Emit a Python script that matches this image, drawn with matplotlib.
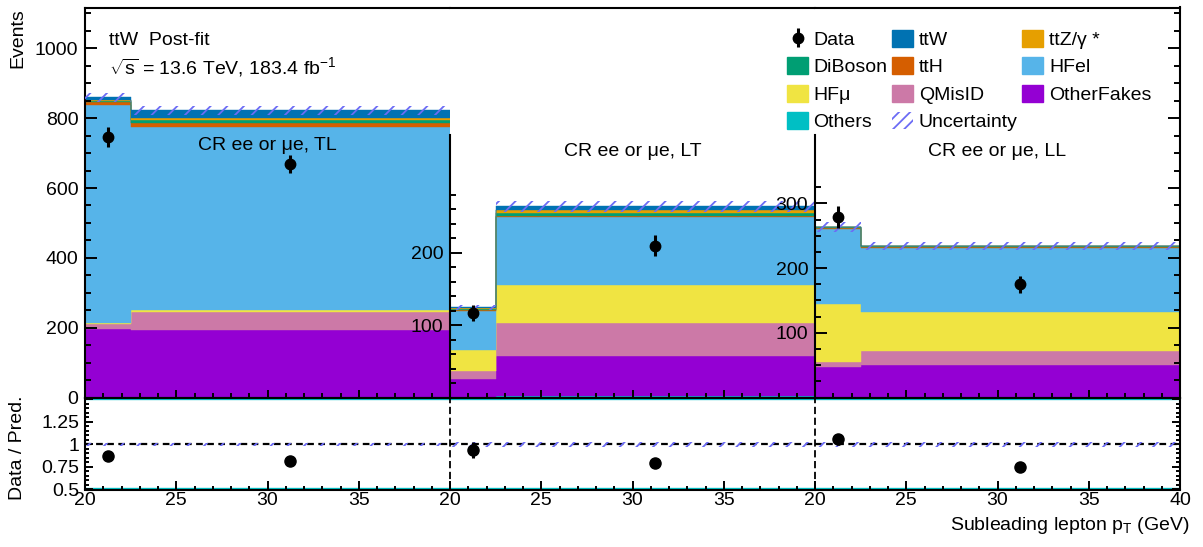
import numpy as np
import matplotlib
matplotlib.use("Agg")
import matplotlib.pyplot as plt
from matplotlib.ticker import MultipleLocator, FixedLocator, FuncFormatter, NullFormatter
from matplotlib.patches import Patch

plt.rcParams["font.family"] = ["Liberation Sans", "DejaVu Sans"]
plt.rcParams["mathtext.fontset"] = "custom"
plt.rcParams["mathtext.rm"] = "Liberation Sans"
plt.rcParams["mathtext.it"] = "Liberation Sans:italic"
plt.rcParams["mathtext.bf"] = "Liberation Sans:bold"
plt.rcParams["hatch.linewidth"] = 1.3

# ---------------------------------------------------------------- data
regions = ["TL", "LT", "LL"]
region_titles = ["CR ee or μe, TL", "CR ee or μe, LT", "CR ee or μe, LL"]
bin_edges = [20.0, 22.5, 40.0]

# two bins per region, regions ordered TL, LT, LL
data        = [746, 668, 117, 210, 279, 175]
ttW         = [7, 22, 1, 5.5, 0.5, 0.5]
ttZ         = [3, 7, 1, 3, 0.5, 0.5]
diboson     = [5, 9, 1.5, 4, 1, 1.5]
ttH         = [7, 9, 2, 2.5, 1, 1.5]
hf_el       = [625, 526, 53, 93, 117, 98.5]
hf_mu       = [4, 5, 30, 53, 89, 60]
qmisid      = [12, 52, 11, 45, 7.5, 22]
other_fakes = [196, 191, 24, 56.5, 46.5, 48.5]
others      = [1.5, 2, 1, 1.5, 1, 1.5]
total_unc   = [13, 13, 3.5, 7, 7.5, 6]

# stacking order, bottom to top
stack = [
    ("Others", others, "#00BFC4"),
    ("OtherFakes", other_fakes, "#9400D3"),
    ("QMisID", qmisid, "#CC79A7"),
    ("HFμ", hf_mu, "#F0E442"),
    ("HFel", hf_el, "#56B4E9"),
    ("ttH", ttH, "#D55E00"),
    ("DiBoson", diboson, "#009E73"),
    ("ttZ/γ *", ttZ, "#E69F00"),
    ("ttW", ttW, "#0072B2"),
]
hatch_color = "#6c6cf5"

# ---------------------------------------------------------------- layout
W, H = 1203, 547
fig = plt.figure(figsize=(W / 100, H / 100), dpi=100)


def fx(px):
    return px / W


def fy(px):
    return 1 - px / H


panel_left = [85, 450, 815]
panel_w = 365
top_y0, top_y1, rat_y1 = 7.5, 397.5, 489.5

ymax = [1117, 539, 603]
spine_top = [None, 363, 406]
ymajor_ticks = [np.arange(0, 1001, 200), [100, 200], [100, 200, 300]]
yminor_ticks = [np.arange(0, 1101, 50), np.arange(20, 281, 20), np.arange(25, 326, 25)]

edges = np.asarray(bin_edges)
centers = 0.5 * (edges[1:] + edges[:-1])
fs = 14
tw = 1.4

legend_data = None
for i in range(3):
    ax = fig.add_axes([fx(panel_left[i]), fy(top_y1), panel_w / W, (top_y1 - top_y0) / H])
    rax = fig.add_axes([fx(panel_left[i]), fy(rat_y1), panel_w / W, (rat_y1 - top_y1) / H])
    sl = slice(2 * i, 2 * i + 2)

    bottom = np.zeros(2)
    for name, vals, color in stack:
        v = np.asarray(vals[sl], float)
        ax.stairs(bottom + v, edges, baseline=bottom.copy(), fill=True,
                  facecolor=color, edgecolor=color, lw=0.3)
        bottom = bottom + v
    total = bottom
    unc = np.asarray(total_unc[sl], float)
    ax.stairs(total + unc, edges, baseline=total - unc, fill=True,
              facecolor="none", edgecolor=hatch_color, hatch="//", lw=0, zorder=3)

    d = np.asarray(data[sl], float)
    err = np.sqrt(d)
    eb = ax.errorbar(centers, d, yerr=err, fmt="o", color="k", ms=7.5,
                     elinewidth=2.2, capsize=0, zorder=5)
    if i == 0:
        legend_data = eb

    ax.set_xlim(20, 40)
    ax.set_ylim(0, ymax[i])

    # ratio panel
    rax.axhline(1, color="k", ls=(0, (3, 2)), lw=1.6, zorder=2)
    rax.stairs(1 + unc / total, edges, baseline=1 - unc / total, fill=True,
               facecolor="none", edgecolor=hatch_color, hatch="//", lw=0, zorder=3)
    rax.errorbar(centers, d / total, yerr=err / total, fmt="o", color="k", ms=8,
                 elinewidth=2.2, capsize=0, zorder=5)
    rax.set_xlim(20, 40)
    rax.set_ylim(0.5, 1.52)
    for yl in (0.5, 1.52):
        rax.axhline(yl, color="#00BFC4", lw=2.4, zorder=1)

    # spines
    for a in (ax, rax):
        for s in a.spines.values():
            s.set_linewidth(1.5)
        a.spines["right"].set_visible(i == 2)
    if i > 0:
        ax.spines["left"].set_bounds(0, spine_top[i])
        rax.spines["left"].set_linestyle((0, (3, 3)))
        rax.spines["left"].set_linewidth(1.3)

    # x ticks
    for a in (ax, rax):
        a.xaxis.set_major_locator(FixedLocator([20, 25, 30, 35, 40]))
        a.xaxis.set_minor_locator(MultipleLocator(1))
    ax.tick_params(axis="x", which="both", direction="in", top=False, labelbottom=False, width=tw)
    ax.tick_params(axis="x", which="major", length=5.8)
    ax.tick_params(axis="x", which="minor", length=3.4)
    rax.tick_params(axis="x", which="both", direction="in", top=False, width=tw,
                    labelsize=fs, pad=1.5)
    rax.tick_params(axis="x", which="major", length=6.5)
    rax.tick_params(axis="x", which="minor", length=3.0)
    last = i == 2
    rax.xaxis.set_major_formatter(
        FuncFormatter(lambda v, p, last=last: "" if (v == 40 and not last) else f"{v:g}"))

    # y ticks, top panels
    ax.yaxis.set_major_locator(FixedLocator(ymajor_ticks[i]))
    ax.yaxis.set_minor_locator(FixedLocator(yminor_ticks[i]))
    ax.yaxis.set_major_formatter(FuncFormatter(lambda v, p: f"{v:g}"))
    ax.tick_params(axis="y", which="both", direction="in", right=False, width=tw,
                   labelsize=fs, pad=4.8)
    ax.tick_params(axis="y", which="major", length=8.4)
    ax.tick_params(axis="y", which="minor", length=4.1)

    # y ticks, ratio panels
    rax.yaxis.set_major_locator(FixedLocator([0.5, 0.75, 1.0, 1.25, 1.5]))
    rax.yaxis.set_minor_locator(MultipleLocator(0.05))
    rax.yaxis.set_major_formatter(FuncFormatter(lambda v, p: "" if v > 1.3 else f"{v:g}"))
    rax.tick_params(axis="y", which="both", direction="in", width=tw, labelsize=fs, pad=4)
    rax.tick_params(axis="y", which="major", length=5.8)
    rax.tick_params(axis="y", which="minor", length=2.6)
    if i == 0:
        rax.tick_params(axis="y", which="both", left=True, right=False)
    elif i == 1:
        rax.tick_params(axis="y", which="both", left=False, right=False, labelleft=False)
    else:
        rax.tick_params(axis="y", which="both", left=False, right=True, labelleft=False)

    # right-hand frame ticks follow the first panel's scale
    if i == 2:
        twin = ax.twinx()
        twin.set_ylim(0, ymax[0])
        twin.yaxis.set_major_locator(MultipleLocator(200))
        twin.yaxis.set_minor_locator(MultipleLocator(50))
        twin.yaxis.set_major_formatter(NullFormatter())
        twin.tick_params(axis="y", which="both", direction="in", width=tw)
        twin.tick_params(axis="y", which="major", length=8.4)
        twin.tick_params(axis="y", which="minor", length=4.1)
        for s in twin.spines.values():
            s.set_visible(False)

    # region label
    title_base = 150 if i == 0 else 156.5
    fig.text(fx(panel_left[i] + panel_w / 2), fy(title_base), region_titles[i],
             ha="center", va="baseline", fontsize=fs)

# ---------------------------------------------------------------- text
fig.text(fx(109), fy(45), "ttW  Post-fit", ha="left", va="baseline", fontsize=fs)
fig.text(fx(109), fy(74), r"$\sqrt{\mathrm{s}}$ = 13.6 TeV, 183.4 fb$^{\mathrm{-1}}$",
         ha="left", va="baseline", fontsize=fs)
fig.text(fx(18), fy(8), "Events", rotation=90, ha="center", va="top", fontsize=fs)
fig.text(fx(18), fy(448), "Data / Pred.", rotation=90, ha="center", va="center", fontsize=fs)
fig.text(fx(1190), fy(530), r"Subleading lepton p$_{\mathrm{T}}$ (GeV)",
         ha="right", va="baseline", fontsize=fs)

# ---------------------------------------------------------------- legend
colors = {name: c for name, _, c in stack}
unc_handle = Patch(facecolor="none", edgecolor=hatch_color, hatch="///", lw=0)
entries = [
    (legend_data, "Data"),
    (Patch(color=colors["DiBoson"]), "DiBoson"),
    (Patch(color=colors["HFμ"]), "HFμ"),
    (Patch(color=colors["Others"]), "Others"),
    (Patch(color=colors["ttW"]), "ttW"),
    (Patch(color=colors["ttH"]), "ttH"),
    (Patch(color=colors["QMisID"]), "QMisID"),
    (unc_handle, "Uncertainty"),
    (Patch(color=colors["ttZ/γ *"]), "ttZ/γ *"),
    (Patch(color=colors["HFel"]), "HFel"),
    (Patch(color=colors["OtherFakes"]), "OtherFakes"),
]
fig.legend([h for h, _ in entries], [l for _, l in entries], loc="upper left",
           bbox_to_anchor=(fx(787), fy(30)), ncol=3, frameon=False, fontsize=fs,
           handlelength=1.08, handleheight=0.95, handletextpad=0.28,
           columnspacing=0.25, labelspacing=0.43, borderpad=0, borderaxespad=0)

fig.savefig("out.png", dpi=100)
